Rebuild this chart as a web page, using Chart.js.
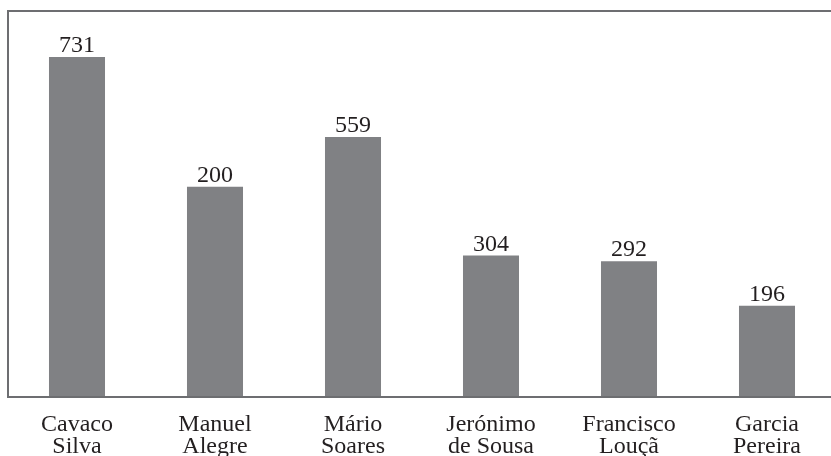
<!DOCTYPE html>
<html>
<head>
<meta charset="utf-8">
<script src="https://cdn.jsdelivr.net/npm/chart.js@4"></script>
<style>
  html, body { margin: 0; padding: 0; background: #fff; overflow: hidden; }
  #wrap { width: 840px; height: 456px; }
</style>
</head>
<body>
<div id="wrap"><canvas id="chart" width="840" height="456"></canvas></div>
<script>
// candidatos
const candidates = [
    ['Cavaco', 'Silva'],
    ['Manuel', 'Alegre'],
    ['Mário', 'Soares'],
    ['Jerónimo', 'de Sousa'],
    ['Francisco', 'Louçã'],
    ['Garcia', 'Pereira']
];
// altura das barras
const barValues = [731, 452, 559, 304, 292, 196];
// números impressos por cima das barras
const barLabels = ['731', '200', '559', '304', '292', '196'];

const serif = '"Liberation Serif", "DejaVu Serif", serif';
const textColor = '#231f20';
const lineColor = '#6d6e71';

// moldura: esquerda, topo e base da área do gráfico
const framePlugin = {
    id: 'frame',
    afterDraw(chart) {
        const { ctx, chartArea: a } = chart;
        ctx.save();
        ctx.strokeStyle = lineColor;
        ctx.lineWidth = 2;
        ctx.beginPath();
        ctx.moveTo(chart.width, a.top);
        ctx.lineTo(a.left, a.top);
        ctx.lineTo(a.left, a.bottom);
        ctx.lineTo(chart.width, a.bottom);
        ctx.stroke();
        ctx.restore();
    }
};

// valores por cima das barras
const valueLabels = {
    id: 'valueLabels',
    afterDatasetsDraw(chart) {
        const { ctx } = chart;
        const meta = chart.getDatasetMeta(0);
        ctx.save();
        ctx.fillStyle = textColor;
        ctx.font = '24px ' + serif;
        ctx.textAlign = 'center';
        ctx.textBaseline = 'alphabetic';
        meta.data.forEach((bar, i) => {
            ctx.fillText(barLabels[i], bar.x, bar.y - 5);
        });
        ctx.restore();
    }
};

new Chart(document.getElementById('chart'), {
    type: 'bar',
    data: {
        labels: candidates,
        datasets: [{
            data: barValues,
            backgroundColor: '#808184',
            borderWidth: 0,
            categoryPercentage: 1,
            barPercentage: 0.406
        }]
    },
    options: {
        responsive: false,
        animation: false,
        layout: { padding: { left: 8, top: 11, right: 4, bottom: 0 } },
        plugins: {
            legend: { display: false },
            tooltip: { enabled: false }
        },
        scales: {
            x: {
                grid: { display: false, drawTicks: false },
                border: { display: false },
                ticks: {
                    color: textColor,
                    font: { family: serif, size: 24, lineHeight: 0.95 },
                    padding: 16,
                    maxRotation: 0,
                    autoSkip: false
                },
                afterFit: (scale) => { scale.height = 59; }
            },
            y: {
                display: false,
                min: 0,
                max: 830
            }
        }
    },
    plugins: [framePlugin, valueLabels]
});
</script>
</body>
</html>
